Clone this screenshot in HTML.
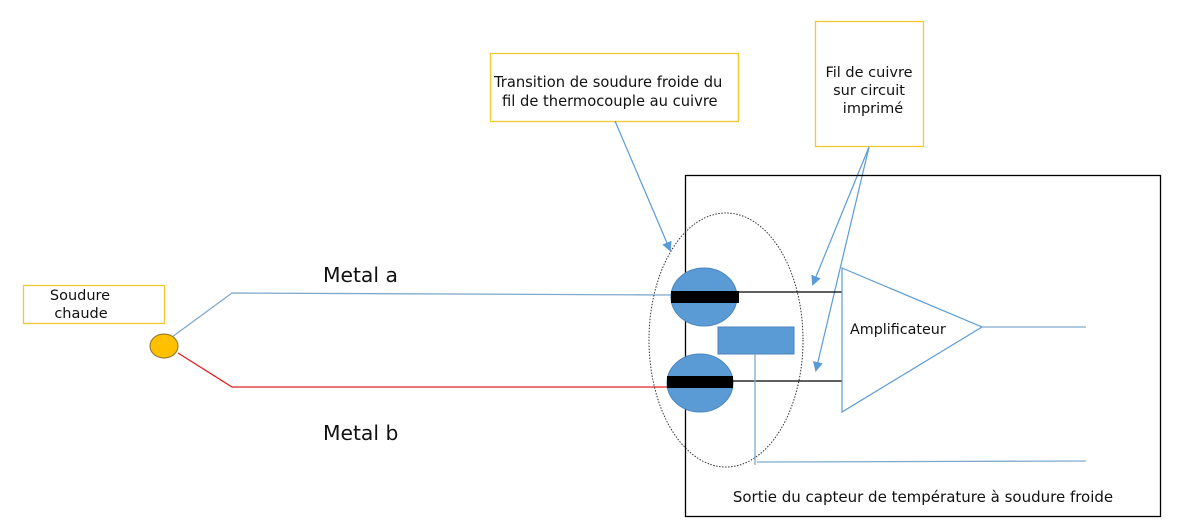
<!DOCTYPE html>
<html><head><meta charset="utf-8"><style>
html,body{margin:0;padding:0;background:#fff;width:1177px;height:532px;overflow:hidden}
text{font-family:"DejaVu Sans","Liberation Sans",sans-serif;fill:#111}
</style></head><body>
<svg width="1177" height="532" viewBox="0 0 1177 532" xmlns="http://www.w3.org/2000/svg">
<defs>
<marker id="ar" markerWidth="10" markerHeight="10" refX="8" refY="5" orient="auto" markerUnits="userSpaceOnUse">
<path d="M0,0 L10,5 L0,10 z" fill="#5b9bd5"/></marker>
</defs>
<rect x="490.5" y="53.5" width="248" height="68" fill="#fff" stroke="#f0c830" stroke-width="1.3"/>
<text x="494" y="87" font-size="14.7">Transition de soudure froide du</text>
<text x="502" y="106" font-size="14.7">fil de thermocouple au cuivre</text>
<rect x="815.5" y="21.5" width="108" height="125" fill="#fff" stroke="#f0c830" stroke-width="1.3"/>
<text x="869" y="77" font-size="14.5" text-anchor="middle">Fil de cuivre</text>
<text x="869" y="95" font-size="14.5" text-anchor="middle">sur circuit</text>
<text x="873" y="113" font-size="14.5" text-anchor="middle">imprimé</text>
<rect x="23.5" y="285.5" width="141" height="38" fill="#fff" stroke="#f0c830" stroke-width="1.3"/>
<text x="80" y="300" font-size="14.5" text-anchor="middle">Soudure</text>
<text x="81" y="318" font-size="14.5" text-anchor="middle">chaude</text>
<line x1="615" y1="121" x2="670" y2="250" stroke="#5b9bd5" stroke-width="1.2" marker-end="url(#ar)"/>
<line x1="869" y1="147" x2="813" y2="284" stroke="#5b9bd5" stroke-width="1.2" marker-end="url(#ar)"/>
<line x1="869" y1="147" x2="816" y2="370" stroke="#5b9bd5" stroke-width="1.2" marker-end="url(#ar)"/>
<rect x="685.5" y="175.5" width="475" height="341" fill="none" stroke="#000" stroke-width="1.3"/>
<text x="923" y="502" font-size="15" text-anchor="middle">Sortie du capteur de température à soudure froide</text>
<polyline points="172,337 232,293 671,295" fill="none" stroke="#7fa9cc" stroke-width="1.3"/>
<polyline points="178,353 232,387 667,387" fill="none" stroke="#e02020" stroke-width="1.3"/>
<ellipse cx="164" cy="346" rx="14" ry="12" fill="#ffc000" stroke="#8a7020" stroke-width="1"/>
<text x="323" y="282" font-size="20.3">Metal a</text>
<text x="323" y="440" font-size="20.3">Metal b</text>
<ellipse cx="726" cy="340" rx="77" ry="127" fill="none" stroke="#333" stroke-width="1" stroke-dasharray="1.5,1.5"/>
<ellipse cx="704" cy="297" rx="33" ry="29" fill="#5b9bd5" stroke="#4a86be"/>
<rect x="671" y="291" width="68" height="12" fill="#000"/>
<ellipse cx="700" cy="383" rx="33" ry="29" fill="#5b9bd5" stroke="#4a86be"/>
<rect x="667" y="376" width="66" height="12" fill="#000"/>
<rect x="718" y="327" width="76" height="27" fill="#5b9bd5" stroke="#4a86be"/>
<line x1="739" y1="292" x2="848" y2="292" stroke="#000" stroke-width="1.2"/>
<line x1="733" y1="381" x2="842" y2="381" stroke="#000" stroke-width="1.2"/>
<polyline points="755,354 755,465" fill="none" stroke="#7fa9cc" stroke-width="1.3"/>
<line x1="757" y1="462" x2="1086" y2="461" stroke="#7fa9cc" stroke-width="1.3"/>
<polygon points="842,268 982,327 842,412" fill="#fff" stroke="#5b9bd5" stroke-width="1.2"/>
<text x="850" y="334" font-size="14.3">Amplificateur</text>
<line x1="982" y1="327" x2="1086" y2="327" stroke="#7fa9cc" stroke-width="1.3"/>
</svg>
</body></html>
